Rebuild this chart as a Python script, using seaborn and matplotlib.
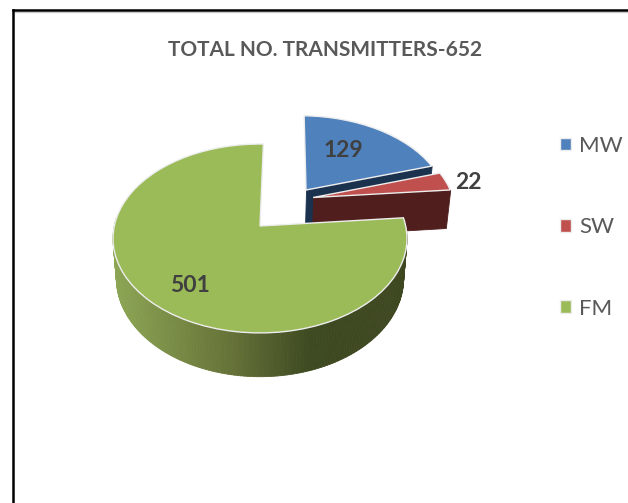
import numpy as np
import matplotlib
matplotlib.use("Agg")
import matplotlib.pyplot as plt
import seaborn as sns
from matplotlib.collections import PolyCollection
from matplotlib.transforms import Affine2D, Transform

# ---- data ----
categories = ["MW", "SW", "FM"]
values = [129, 22, 501]
title_text = "TOTAL NO. TRANSMITTERS-652"

# ---- styles ----
top_colors = ["#4F81BD", "#C0504D", "#9BBB59"]
wall_colors = ["#1B324F", "#4F1E1D"]
slice_offsets = [(0.333, 0.409), (0.38, 0.32), (0.0, 0.0)]
FONT = "Lato"

W, H = 628, 503
CX, CY, RX, RY, K = 260.0, 226.0, 145.7, 92.8, 0.132
SHRINK_X, SHRINK_Y, DROP = 0.977, 1.04, 39.5

sns.set_theme(style="white")
plt.rcParams["font.family"] = [FONT, "DejaVu Sans"]


def project(xy):
    xy = np.asarray(xy, float)
    d = 1 + K * xy[..., 1]
    return np.stack([CX + RX * xy[..., 0] / d, CY - RY * xy[..., 1] / d], axis=-1)


def extrude(p):
    return np.stack([CX + (p[..., 0] - CX) * SHRINK_X,
                     CY + (p[..., 1] - CY) * SHRINK_Y + DROP], axis=-1)


class Perspective(Transform):
    input_dims = output_dims = 2
    is_affine = False
    has_inverse = False

    def transform_non_affine(self, values):
        return project(values)


fig = plt.figure(figsize=(W / 100, H / 100), dpi=100, facecolor="white")
L, T = 13.0, 9.5
ax = fig.add_axes([L / W, 0, (W - L) / W, (H - T) / H])

wedges, _ = ax.pie(values, startangle=88.5, counterclock=False,
                   colors=sns.color_palette(top_colors),
                   wedgeprops=dict(edgecolor="#EDEDED", linewidth=1.0))
ax.set_aspect("auto")
ax.set_xlim(L, W)
ax.set_ylim(H, T)
ax.set_xticks([])
ax.set_yticks([])
ax.set_frame_on(True)
for side, sp in ax.spines.items():
    sp.set_visible(side in ("top", "left"))
    sp.set_color("black")
    sp.set_linewidth(1.8)
ax.axhline(11.5, color="#C8C8C8", lw=0.9, zorder=0.5)


def fm_wall_color(x):
    return np.stack([np.interp(x, [115, 230, 310, 410], c) for c in
                     ([0.55, 0.40, 0.243, 0.243],
                      [0.65, 0.45, 0.29, 0.28],
                      [0.33, 0.22, 0.13, 0.13])], axis=-1)


for i, w in enumerate(wedges):
    off = np.array(slice_offsets[i])
    base = 2 * i + 1
    w.set_transform(Affine2D().translate(*off) + Perspective() + ax.transData)
    w.set_zorder(base + 1)

    t = np.radians(np.linspace(w.theta1, w.theta2, 240))
    arc = project(np.column_stack([np.cos(t), np.sin(t)]) + off)
    if i < 2:
        # only the cut face on the clockwise side of the exploded slice shows
        apex = project(off)
        polys = [np.array([apex, arc[0], extrude(arc[0]), extrude(apex)])]
        cols = [wall_colors[i]]
    else:
        # only the front part of the rim shows
        front = np.sin(t) < 0.1
        low = extrude(arc)
        polys = [np.array([arc[j], arc[j + 1], low[j + 1], low[j]])
                 for j in range(len(t) - 1) if front[j] and front[j + 1]]
        xs = [p[:2, 0].mean() for p in polys]
        cols = fm_wall_color(np.array(xs))
    ax.add_collection(PolyCollection(polys, facecolors=cols, edgecolors=cols,
                                     linewidths=0.6, zorder=base))

label_pos = [(343.5, 150.5), (468.5, 182.5), (189.5, 285.5)]
for v, (x, y) in zip(values, label_pos):
    ax.text(x, y, str(v), fontsize=16.5, fontweight="bold", color="#404040",
            ha="center", va="center", zorder=10)

ax.text(325, 50.5, title_text, fontsize=15, fontweight="bold", color="#595959",
        ha="center", va="center", zorder=10)

ax.legend(wedges, categories, loc="upper left",
          bbox_to_anchor=((560 - L) / (W - L), 1 - (136 - T) / (H - T)),
          frameon=False, fontsize=16, labelcolor="#595959",
          handlelength=0.5, handleheight=0.5, handletextpad=0.36,
          labelspacing=2.76, borderpad=0, borderaxespad=0)

fig.savefig("out.png", dpi=100, facecolor="white")
